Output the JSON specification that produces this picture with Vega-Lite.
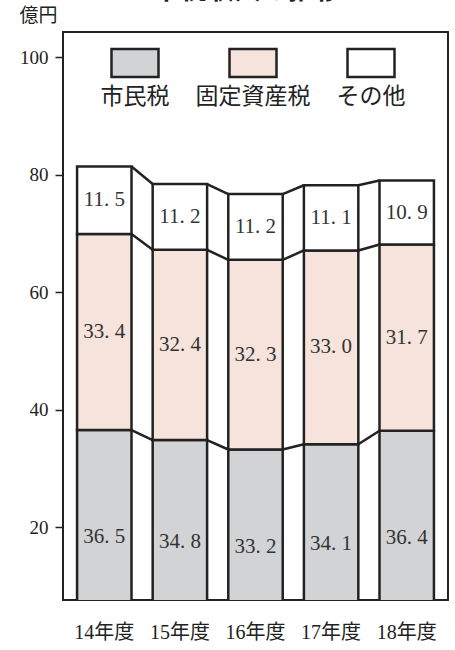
{
  "$schema": "https://vega.github.io/schema/vega-lite/v6.json",
  "width": 385,
  "height": 568,
  "autosize": {"type": "none"},
  "padding": {"left": 63, "top": 32, "right": 7, "bottom": 50},
  "background": "white",
  "title": {
    "text": "市税収入の推移",
    "font": "Noto Sans CJK JP",
    "fontSize": 27,
    "fontWeight": "bold",
    "color": "#222",
    "anchor": "middle",
    "baseline": "alphabetic",
    "offset": -20,
    "dx": -8
  },
  "config": {
    "view": {"stroke": "#222", "strokeWidth": 2},
    "legend": {
      "orient": "none",
      "legendX": 47,
      "legendY": 6,
      "direction": "horizontal",
      "symbolType": "M-1,-0.6H1V0.6H-1Z",
      "symbolSize": 2209,
      "symbolStrokeColor": "#222",
      "symbolStrokeWidth": 2.5,
      "labelFont": "Noto Sans CJK JP",
      "labelFontSize": 23,
      "labelColor": "#222",
      "labelOffset": 0,
      "labelLimit": 300,
      "columnPadding": 25,
      "padding": 0
    }
  },
  "datasets": {
    "bars": [
      {"year": "14年度", "type": "市民税", "order": 1, "value": 36.5, "label": "36. 5"},
      {"year": "14年度", "type": "固定資産税", "order": 2, "value": 33.4, "label": "33. 4"},
      {"year": "14年度", "type": "その他", "order": 3, "value": 11.5, "label": "11. 5"},
      {"year": "15年度", "type": "市民税", "order": 1, "value": 34.8, "label": "34. 8"},
      {"year": "15年度", "type": "固定資産税", "order": 2, "value": 32.4, "label": "32. 4"},
      {"year": "15年度", "type": "その他", "order": 3, "value": 11.2, "label": "11. 2"},
      {"year": "16年度", "type": "市民税", "order": 1, "value": 33.2, "label": "33. 2"},
      {"year": "16年度", "type": "固定資産税", "order": 2, "value": 32.3, "label": "32. 3"},
      {"year": "16年度", "type": "その他", "order": 3, "value": 11.2, "label": "11. 2"},
      {"year": "17年度", "type": "市民税", "order": 1, "value": 34.1, "label": "34. 1"},
      {"year": "17年度", "type": "固定資産税", "order": 2, "value": 33.0, "label": "33. 0"},
      {"year": "17年度", "type": "その他", "order": 3, "value": 11.1, "label": "11. 1"},
      {"year": "18年度", "type": "市民税", "order": 1, "value": 36.4, "label": "36. 4"},
      {"year": "18年度", "type": "固定資産税", "order": 2, "value": 31.7, "label": "31. 7"},
      {"year": "18年度", "type": "その他", "order": 3, "value": 10.9, "label": "10. 9"}
    ],
    "links": [
      {"from": "14年度", "to": "15年度", "a": 36.5, "b": 34.8},
      {"from": "14年度", "to": "15年度", "a": 69.9, "b": 67.2},
      {"from": "14年度", "to": "15年度", "a": 81.4, "b": 78.4},
      {"from": "15年度", "to": "16年度", "a": 34.8, "b": 33.2},
      {"from": "15年度", "to": "16年度", "a": 67.2, "b": 65.5},
      {"from": "15年度", "to": "16年度", "a": 78.4, "b": 76.7},
      {"from": "16年度", "to": "17年度", "a": 33.2, "b": 34.1},
      {"from": "16年度", "to": "17年度", "a": 65.5, "b": 67.1},
      {"from": "16年度", "to": "17年度", "a": 76.7, "b": 78.2},
      {"from": "17年度", "to": "18年度", "a": 34.1, "b": 36.4},
      {"from": "17年度", "to": "18年度", "a": 67.1, "b": 68.1},
      {"from": "17年度", "to": "18年度", "a": 78.2, "b": 79.0}
    ]
  },
  "layer": [
    {
      "data": {"name": "bars"},
      "mark": {"type": "bar", "stroke": "#222", "strokeWidth": 2.5, "clip": true},
      "encoding": {
        "x": {
          "field": "year",
          "type": "nominal",
          "sort": null,
          "scale": {"paddingInner": 0.28, "paddingOuter": 0.186},
          "axis": {
            "title": null,
            "labelAngle": 0,
            "ticks": false,
            "tickSize": 0,
            "domain": false,
            "labelFont": "Liberation Serif, Noto Sans CJK JP",
            "labelFontSize": 20,
            "labelColor": "#222",
            "labelPadding": 22,
            "labelBaseline": "top"
          }
        },
        "y": {
          "field": "value",
          "type": "quantitative",
          "stack": "zero",
          "scale": {"domain": [7.57, 104.3], "nice": false, "zero": false},
          "axis": {
            "values": [20, 40, 60, 80, 100],
            "tickSize": 8,
            "tickWidth": 1.5,
            "tickColor": "#222",
            "labelFont": "Liberation Serif",
            "labelFontSize": 19,
            "labelColor": "#222",
            "labelPadding": 7,
            "domain": false,
            "grid": false,
            "title": "億円",
            "titleAngle": 0,
            "titleX": -44,
            "titleY": -11,
            "titleAlign": "left",
            "titleBaseline": "alphabetic",
            "titleFont": "Noto Sans CJK JP",
            "titleFontSize": 19,
            "titleFontWeight": "normal",
            "titleColor": "#222"
          }
        },
        "color": {
          "field": "type",
          "type": "nominal",
          "sort": ["市民税", "固定資産税", "その他"],
          "scale": {"domain": ["市民税", "固定資産税", "その他"], "range": ["#d1d3d4", "#f5e3dc", "#ffffff"]},
          "legend": {
            "title": null,
            "encode": {
              "labels": {"update": {"dx": {"value": -25}, "dy": {"value": 34}, "align": {"value": "center"}}}
            }
          }
        },
        "order": {"field": "order"}
      }
    },
    {
      "data": {"name": "bars"},
      "mark": {"type": "text", "font": "Liberation Serif", "fontSize": 21, "color": "#333", "baseline": "middle"},
      "encoding": {
        "x": {"field": "year", "type": "nominal", "sort": null},
        "y": {"field": "value", "type": "quantitative", "stack": "zero", "bandPosition": 0.5},
        "detail": {"field": "type"},
        "order": {"field": "order"},
        "text": {"field": "label"}
      }
    },
    {
      "data": {"name": "links"},
      "mark": {"type": "rule", "stroke": "#222", "strokeWidth": 2.5},
      "encoding": {
        "x": {"field": "from", "type": "nominal", "sort": null, "bandPosition": 1},
        "x2": {"field": "to", "bandPosition": 0},
        "y": {"field": "a", "type": "quantitative"},
        "y2": {"field": "b"}
      }
    }
  ]
}
